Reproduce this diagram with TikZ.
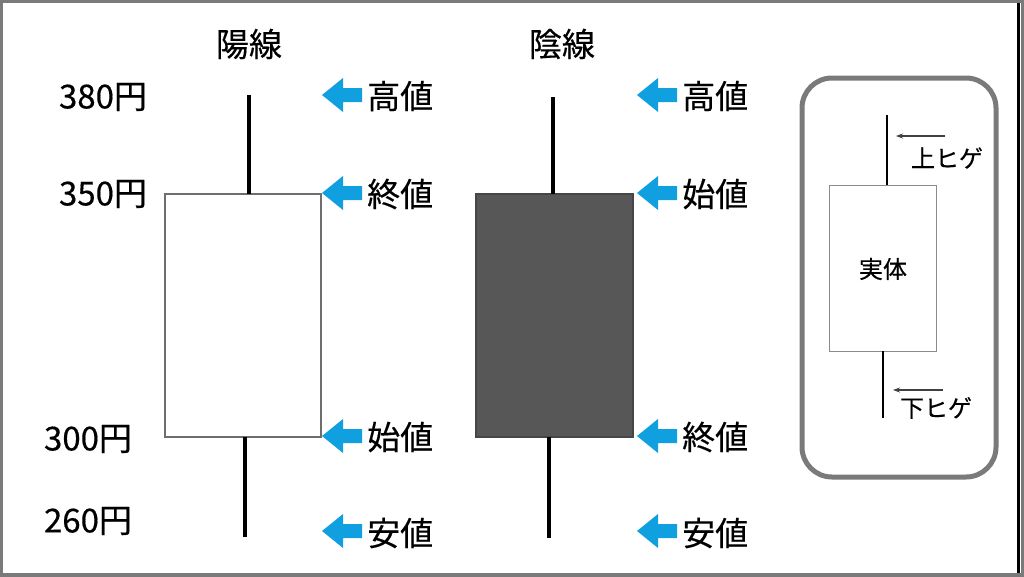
\documentclass[tikz,border=0pt]{standalone}
\usepackage{fontspec}
\setmainfont[FakeBold=0.35]{Noto Sans CJK JP}
\usetikzlibrary{arrows.meta}
\definecolor{arrowblue}{HTML}{109FDF}
\definecolor{framegray}{HTML}{7A7A7A}
\definecolor{boxgray}{HTML}{6E6E6E}
\definecolor{darkfill}{HTML}{575757}
\tikzset{
  bigtext/.style={font=\fontsize{33}{38}\selectfont, inner sep=0pt},
  pricetext/.style={font=\fontsize{33}{38}\selectfont, inner sep=0pt},
  smalltext/.style={font=\fontsize{24}{28}\selectfont, inner sep=0pt},
  bluearrow/.pic={\fill[arrowblue] (0,0) -- (21,-17) -- (21,-7) -- (40,-7) -- (40,7) -- (21,7) -- (21,17) -- cycle;},
  wick/.style={line width=3.2pt, black},
  thinwick/.style={line width=2.6pt, black},
  candlebody/.style={draw=boxgray, line width=1.3pt, inner sep=0pt},
  pointer/.style={-{Stealth[length=7pt,width=5pt]}, line width=1.1pt, black!75},
}
\begin{document}
\begin{tikzpicture}[x=1pt,y=-1pt]
\useasboundingbox (0,0) rectangle (1024,576);
\fill[white] (0,0) rectangle (1024,576);
\draw[framegray, line width=6pt] (0,0) rectangle (1024,576);
\draw[black, line width=2.5pt] (1018.5,3) -- (1018.5,573);

% titles
\node[bigtext] (t1) at (249,44) {陽線};
\node[bigtext] (t2) at (562,44) {陰線};

% prices
\node[pricetext] (p380) at (103,97) {380円};
\node[pricetext] (p350) at (103,194) {350円};
\node[pricetext] (p300) at (88,439) {300円};
\node[pricetext] (p260) at (88,521) {260円};

% bullish candle
\node[candlebody, fill=white, minimum width=156pt, minimum height=243pt] (bull) at (243,315.5) {};
\coordinate (bullhi) at (249,95);
\coordinate (bullhib) at (249,194);
\coordinate (bulllo) at (245,537);
\coordinate (bullloa) at (245,437);
\draw[wick] (bullhib) -- (bullhi);
\draw[wick] (bullloa) -- (bulllo);

% bearish candle
\node[candlebody, fill=darkfill, draw=darkfill!80!black, minimum width=157pt, minimum height=243pt] (bear) at (554.5,315.5) {};
\coordinate (bearhi) at (553,97);
\coordinate (bearhib) at (553,194);
\coordinate (bearlo) at (549,538);
\coordinate (bearloa) at (549,437);
\draw[wick] (bearhib) -- (bearhi);
\draw[wick] (bearloa) -- (bearlo);

% arrows left
\pic at (322,95) {bluearrow};
\pic at (322,193) {bluearrow};
\pic at (322,436) {bluearrow};
\pic at (322,531) {bluearrow};
\node[bigtext, anchor=west] (l1) at (367,96) {高値};
\node[bigtext, anchor=west] (l2) at (367,194) {終値};
\node[bigtext, anchor=west] (l3) at (367,437) {始値};
\node[bigtext, anchor=west] (l4) at (367,533) {安値};

% arrows right
\pic at (637,95) {bluearrow};
\pic at (637,193) {bluearrow};
\pic at (637,436) {bluearrow};
\pic at (637,531) {bluearrow};
\node[bigtext, anchor=west] (r1) at (682,96) {高値};
\node[bigtext, anchor=west] (r2) at (682,194) {始値};
\node[bigtext, anchor=west] (r3) at (682,437) {終値};
\node[bigtext, anchor=west] (r4) at (682,533) {安値};

% legend panel
\node[draw=framegray, line width=5pt, rounded corners=30pt, minimum width=194pt, minimum height=399pt, inner sep=0pt] (panel) at (899,277.5) {};
\node[draw=boxgray!80, line width=1pt, fill=white, minimum width=107pt, minimum height=166pt, inner sep=0pt] (body) at (882.5,268) {};
\node[smalltext] (bodylabel) at (883,269) {実体};
\coordinate (uwt) at (887,115);
\coordinate (uwb) at (887,185);
\coordinate (lwt) at (883,351);
\coordinate (lwb) at (883,418);
\draw[thinwick] (uwb) -- (uwt);
\draw[thinwick] (lwt) -- (lwb);
\coordinate (up1) at (945,136);
\coordinate (up2) at (896,136);
\coordinate (lp1) at (943,390);
\coordinate (lp2) at (893,390);
\draw[pointer] (up1) -- (up2);
\draw[pointer] (lp1) -- (lp2);
\node[smalltext] (upl) at (947,158) {上ヒゲ};
\node[smalltext] (lol) at (936,408) {下ヒゲ};
\end{tikzpicture}
\end{document}
